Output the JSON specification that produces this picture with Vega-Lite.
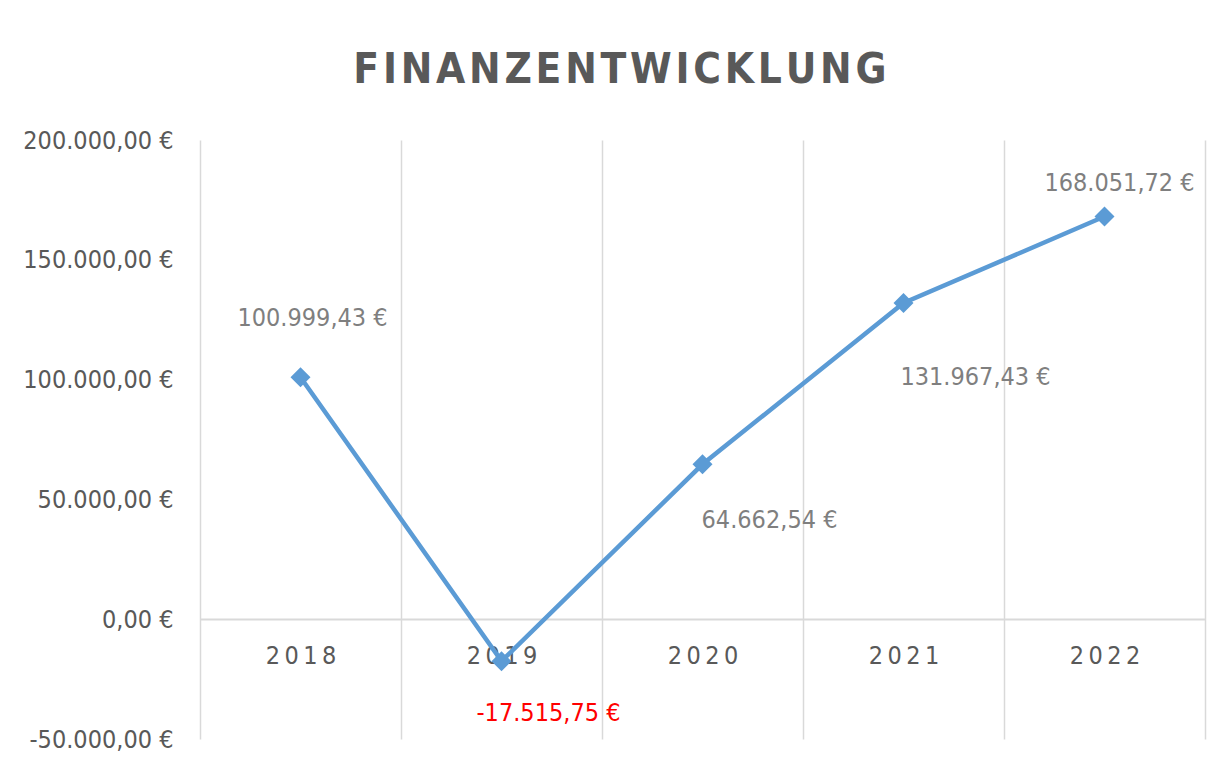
{
  "$schema": "https://vega.github.io/schema/vega-lite/v6.json",
  "width": 1005,
  "height": 599,
  "autosize": "none",
  "padding": {"left": 200, "top": 140, "right": 20, "bottom": 30},
  "background": "#ffffff",
  "title": {
    "text": "F\u200aI\u200aN\u200aA\u200aN\u200aZ\u200aE\u200aN\u200aT\u200aW\u200aI\u200aC\u200aK\u200aL\u200aU\u200aN\u200aG",
    "font": "DejaVu Sans Condensed",
    "fontSize": 42,
    "fontWeight": "bold",
    "color": "#595959",
    "anchor": "middle",
    "frame": "bounds",
    "baseline": "alphabetic",
    "offset": 3,
    "dx": 6
  },
  "config": {
    "locale": {
      "number": {"decimal": ",", "thousands": ".", "grouping": [3], "currency": ["", " €"], "minus": "-"}
    },
    "view": {"stroke": null},
    "font": "DejaVu Sans Condensed"
  },
  "data": {
    "values": [
      {"year": "2018", "value": 100999.43},
      {"year": "2019", "value": -17515.75},
      {"year": "2020", "value": 64662.54},
      {"year": "2021", "value": 131967.43},
      {"year": "2022", "value": 168051.72}
    ]
  },
  "encoding": {
    "x": {
      "field": "year",
      "type": "ordinal",
      "scale": {"type": "band", "paddingInner": 0, "paddingOuter": 0},
      "axis": {
        "title": null,
        "orient": "bottom",
        "offset": -120,
        "tickBand": "extent",
        "grid": true,
        "gridColor": "#d9d9d9",
        "gridWidth": 1.5,
        "ticks": false,
        "domain": true,
        "domainColor": "#d9d9d9",
        "domainWidth": 2,
        "labelAngle": 0,
        "labelExpr": "join(split(datum.label, ''), '\u2009')",
        "labelFont": "DejaVu Sans Condensed",
        "labelFontSize": 25,
        "labelColor": "#595959",
        "labelPadding": 24
      }
    },
    "y": {
      "field": "value",
      "type": "quantitative",
      "scale": {"domain": [-50000, 200000], "nice": false, "zero": false},
      "axis": {
        "title": null,
        "values": [-50000, 0, 50000, 100000, 150000, 200000],
        "format": "$,.2f",
        "grid": false,
        "ticks": false,
        "domain": false,
        "labelFont": "DejaVu Sans Condensed",
        "labelFontSize": 25,
        "labelLimit": 0,
        "labelColor": "#595959",
        "labelPadding": 27
      }
    }
  },
  "layer": [
    {"mark": {"type": "line", "color": "#5B9BD5", "strokeWidth": 4.5}},
    {"mark": {"type": "point", "shape": "diamond", "size": 400, "filled": true, "opacity": 1, "color": "#5B9BD5"}},
    {
      "transform": [{"filter": "datum.year == '2018'"}],
      "mark": {"type": "text", "fontSize": 25, "color": "#7f7f7f", "align": "center", "baseline": "middle", "dx": 12, "dy": -59},
      "encoding": {"text": {"field": "value", "type": "quantitative", "format": "$,.2f"}}
    },
    {
      "transform": [{"filter": "datum.year == '2019'"}],
      "mark": {"type": "text", "fontSize": 25, "color": "#ff0000", "align": "center", "baseline": "middle", "dx": 47, "dy": 52},
      "encoding": {"text": {"field": "value", "type": "quantitative", "format": "$,.2f"}}
    },
    {
      "transform": [{"filter": "datum.year == '2020'"}],
      "mark": {"type": "text", "fontSize": 25, "color": "#7f7f7f", "align": "center", "baseline": "middle", "dx": 67, "dy": 56},
      "encoding": {"text": {"field": "value", "type": "quantitative", "format": "$,.2f"}}
    },
    {
      "transform": [{"filter": "datum.year == '2021'"}],
      "mark": {"type": "text", "fontSize": 25, "color": "#7f7f7f", "align": "center", "baseline": "middle", "dx": 72, "dy": 74},
      "encoding": {"text": {"field": "value", "type": "quantitative", "format": "$,.2f"}}
    },
    {
      "transform": [{"filter": "datum.year == '2022'"}],
      "mark": {"type": "text", "fontSize": 25, "color": "#7f7f7f", "align": "center", "baseline": "middle", "dx": 15, "dy": -34},
      "encoding": {"text": {"field": "value", "type": "quantitative", "format": "$,.2f"}}
    }
  ]
}
